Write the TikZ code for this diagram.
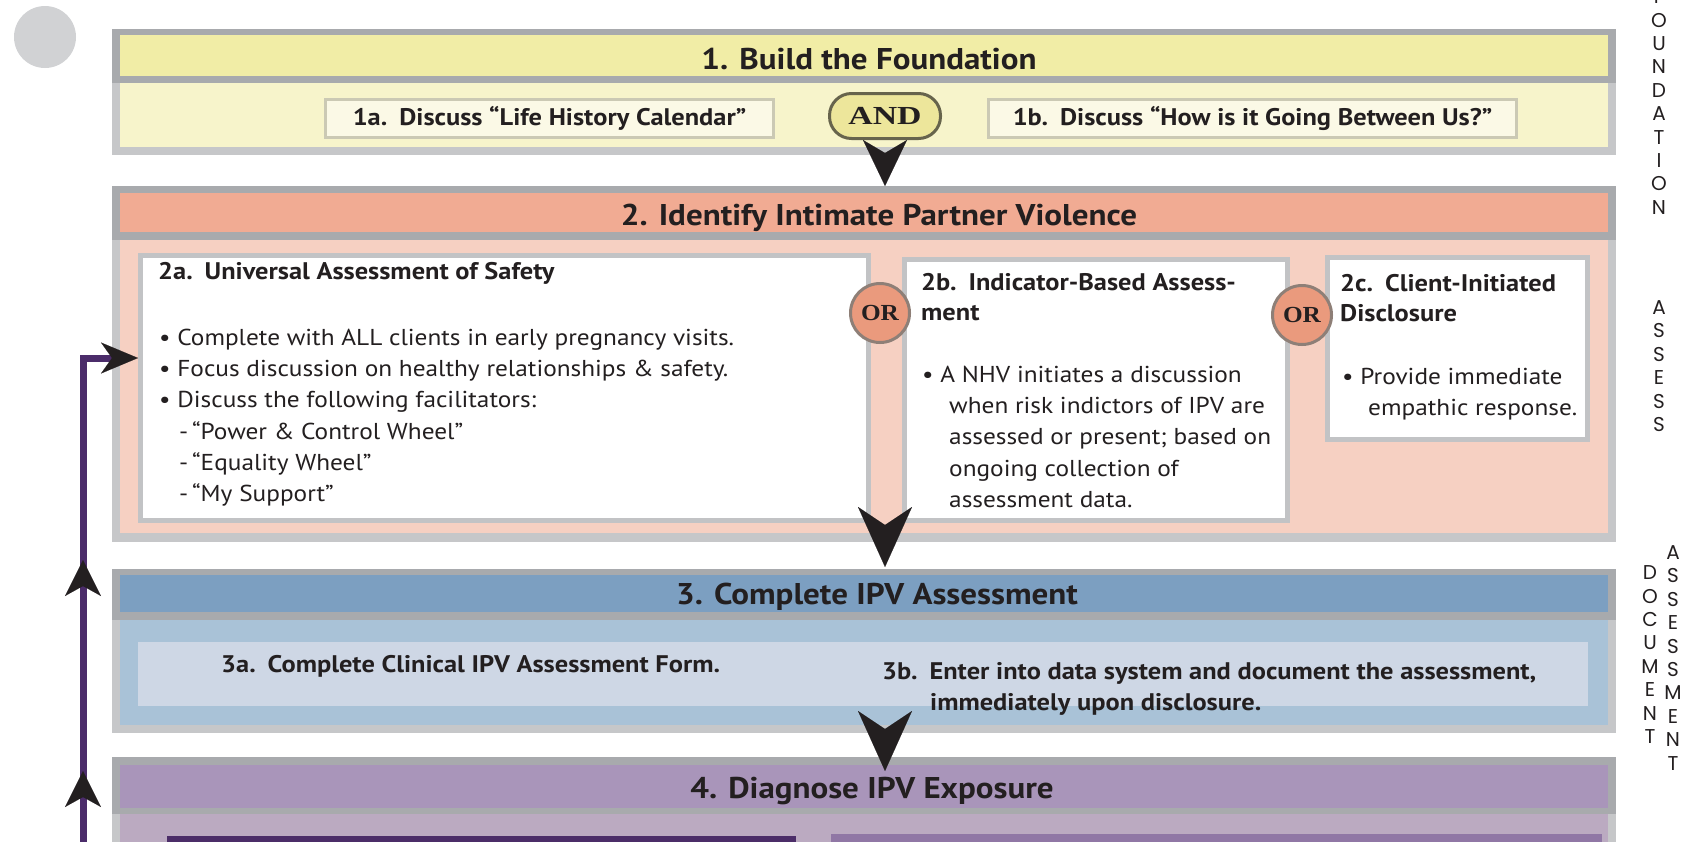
\documentclass[tikz,border=0pt]{standalone}
\usepackage{fontspec}
\setmainfont{PT Sans}[FakeStretch=1.1]
\newfontfamily\sidefont{Poppins}
\newfontfamily\joinfont{Liberation Serif}[FakeStretch=1.1]
\newfontfamily\andfont{Liberation Serif}[FakeStretch=1.3]
\usetikzlibrary{arrows.meta,calc,decorations.markings}

\definecolor{framelight}{HTML}{C6C7C9}
\definecolor{framedark}{HTML}{A8AAAD}
\definecolor{dotgrey}{HTML}{D1D2D4}
\definecolor{inktext}{HTML}{231F20}
\definecolor{foundhead}{HTML}{F1EDA6}
\definecolor{foundlow}{HTML}{F7F4CB}
\definecolor{foundcard}{HTML}{FBF9E6}
\definecolor{cardline}{HTML}{CBC9B4}
\definecolor{andfill}{HTML}{EDE69B}
\definecolor{andline}{HTML}{67644C}
\definecolor{assesshead}{HTML}{F1AB93}
\definecolor{assesslow}{HTML}{F6D0C2}
\definecolor{orfill}{HTML}{EA9A7D}
\definecolor{orline}{HTML}{8E7F77}
\definecolor{boxline}{HTML}{C2C3C5}
\definecolor{dochead}{HTML}{7C9FC1}
\definecolor{doclow}{HTML}{A9C2D7}
\definecolor{docinner}{HTML}{CED7E5}
\definecolor{diaghead}{HTML}{A995BA}
\definecolor{diaglow}{HTML}{BBAAC1}
\definecolor{diagdark}{HTML}{4B2D68}
\definecolor{diagmid}{HTML}{9077A5}
\definecolor{loopcolor}{HTML}{4B2C6A}

\tikzset{
  stepframe/.style={fill=framelight, anchor=north west, minimum width=1504pt},
  steptitle/.style={text=inktext, font=\bfseries\fontsize{30}{34}\selectfont, text height=20pt, text depth=6pt},
  card/.style={anchor=north west, fill=white, draw=boxline, line width=5pt},
  cardhead/.style={text=inktext, font=\bfseries\fontsize{24}{30}\selectfont, align=left},
  cardtext/.style={text=inktext, font=\fontsize{23}{31.2}\selectfont, align=left, anchor=north west},
  joinword/.style={circle, fill=orfill, draw=orline, line width=3pt, minimum size=59pt, text=inktext, font=\joinfont\bfseries\fontsize{23}{23}\selectfont},
  sidelabel/.style={anchor=north, align=center, text=inktext, font=\sidefont\fontsize{20}{23.4}\selectfont},
  chevron/.style={draw=inktext, line width=0.1pt, shorten <=13pt, -{Stealth[length=46pt,width=44pt,inset=13pt]}},
  bigchevron/.style={draw=inktext, line width=0.1pt, shorten <=18pt, -{Stealth[length=60pt,width=54pt,inset=18pt]}},
  loopline/.style={draw=loopcolor, line width=7pt, -{Stealth[length=37pt,width=31pt,inset=11pt,color=inktext,line width=0.1pt]},
    decoration={markings,
      mark=at position 89pt with {\arrow{Stealth[length=36pt,width=36pt,inset=10pt,color=inktext,line width=0.1pt]}},
      mark=at position 300pt with {\arrow{Stealth[length=36pt,width=36pt,inset=10pt,color=inktext,line width=0.1pt]}}},
    postaction={decorate}},
}

\begin{document}
\begin{tikzpicture}[x=1pt, y=-1pt, every node/.style={inner sep=0pt}]
  \useasboundingbox (0,0) rectangle (1691,841);

  % grey dot top left
  \fill[dotgrey] (45,37) circle (31);

  % step 1: foundation
  \node[stepframe, minimum height=126pt] (foundation) at (112,29) {};
  \fill[framedark] (112,29) rectangle (1616,83);
  \fill[foundhead] (120,35) rectangle (1608,76);
  \fill[foundlow] (120,83) rectangle (1608,147);
  \node[steptitle] (foundtitle) at (869,62) {1. Build the Foundation};
  \node[card, fill=foundcard, draw=cardline, line width=3pt, minimum width=448pt, minimum height=38pt,
        font=\bfseries\fontsize{24}{26}\selectfont, text=inktext] (lifecal) at (324,98)
        {1a.\hspace{0.5em}Discuss “Life History Calendar”};
  \node[card, fill=foundcard, draw=cardline, line width=3pt, minimum width=528pt, minimum height=38pt,
        font=\bfseries\fontsize{24}{26}\selectfont, text=inktext] (between) at (987,98)
        {1b.\hspace{0.5em}Discuss “How is it Going Between Us?”};
  \node[draw=andline, fill=andfill, line width=3pt, rounded corners=22pt, minimum width=111pt, minimum height=45pt,
        font=\andfont\bfseries\fontsize{26}{26}\selectfont, text=inktext] (andjoin) at (885,116) {AND};

  % step 2: identify
  \node[stepframe, minimum height=356pt] (identify) at (112,186) {};
  \fill[framedark] (112,186) rectangle (1616,240);
  \fill[assesshead] (120,193) rectangle (1608,232);
  \fill[assesslow] (120,240) rectangle (1608,533);
  \node[steptitle] (identtitle) at (879,218) {2. Identify Intimate Partner Violence};

  \node[card, minimum width=728pt, minimum height=265pt] (universal) at (138,253) {};
  \node[cardhead, anchor=west] (universalhead) at (158,273) {2a.\hspace{0.5em}Universal Assessment of Safety};
  \node[cardtext] (universaltext) at (159,329)
    {• Complete with ALL clients in early pregnancy visits.\\
     • Focus discussion on healthy relationships \& safety.\\
     • Discuss the following facilitators:\\
     \hspace*{20pt}-\,“Power \& Control Wheel”\\
     \hspace*{20pt}-\,“Equality Wheel”\\
     \hspace*{20pt}-\,“My Support”};

  \node[card, minimum width=383pt, minimum height=261pt] (indicator) at (902,257) {};
  \node[cardhead, anchor=north west] (indicatorhead) at (921,273) {2b.\hspace{0.5em}Indicator-Based Assess-\\ment};
  \node[cardtext] (indicatortext) at (922,366)
    {• A NHV initiates a discussion\\
     \hspace*{27pt}when risk indictors of IPV are\\
     \hspace*{27pt}assessed or present; based on\\
     \hspace*{27pt}ongoing collection of\\
     \hspace*{27pt}assessment data.};

  \node[card, minimum width=260pt, minimum height=182pt] (clientinit) at (1325,255) {};
  \node[cardhead, anchor=north west] (clienthead) at (1340,274) {2c.\hspace{0.5em}Client-Initiated\\Disclosure};
  \node[cardtext] (clienttext) at (1342,368)
    {• Provide immediate\\
     \hspace*{26pt}empathic response.};

  \node[joinword] (orone) at (880,313) {OR};
  \node[joinword] (ortwo) at (1302,315) {OR};

  % step 3: document
  \node[stepframe, minimum height=164pt] (document) at (112,569) {};
  \fill[framedark] (112,569) rectangle (1616,620);
  \fill[dochead] (120,575) rectangle (1608,612);
  \fill[doclow] (120,620) rectangle (1608,725);
  \node[steptitle] (doctitle) at (877,597) {3. Complete IPV Assessment};
  \node[anchor=north west, fill=docinner, minimum width=1450pt, minimum height=64pt] (docpanel) at (138,642) {};
  \node[cardhead, anchor=west] (clinicalform) at (221,666) {3a.\hspace{0.5em}Complete Clinical IPV Assessment Form.};
  \node[cardhead, anchor=north west, font=\bfseries\fontsize{24}{31}\selectfont] (datasystem) at (882,662)
    {3b.\hspace{0.5em}Enter into data system and document the assessment,\\
     \hspace*{48pt}immediately upon disclosure.};

  % step 4: diagnose
  \node[stepframe, minimum height=110pt] (diagnose) at (112,757) {};
  \fill[framedark] (112,757) rectangle (1616,814);
  \fill[diaghead] (120,765) rectangle (1608,808);
  \fill[diaglow] (120,814) rectangle (1608,867);
  \node[steptitle] (diagtitle) at (872,791) {4. Diagnose IPV Exposure};
  \fill[diagdark] (167,836) rectangle (796,870);
  \fill[diagmid] (831,834) rectangle (1602,870);

  % side labels
  \node[sidelabel] (foundlabel) at (1659,-10.5) {F\\O\\U\\N\\D\\A\\T\\I\\O\\N};
  \node[sidelabel] (assesslabel) at (1659,300.5) {A\\S\\S\\E\\S\\S};
  \node[sidelabel] (documentlabel) at (1650,565.5) {D\\O\\C\\U\\M\\E\\N\\T};
  \node[sidelabel] (assessmentlabel) at (1673,545.5) {A\\S\\S\\E\\S\\S\\M\\E\\N\\T};

  % arrows between the steps
  \draw[chevron] (andjoin.south) -- (andjoin.south |- identify.north);
  \draw[bigchevron] ($(andjoin |- identify.south)+(0,-35)$) -- ($(andjoin |- document.north)+(0,-2)$);
  \draw[bigchevron] ($(andjoin |- document.south)+(0,-21)$) -- ($(andjoin |- diagnose.north)+(0,14)$);

  % return line into 2a
  \coordinate (loopfoot) at (83,860);
  \coordinate (loopturn) at (83,358);
  \draw[loopline] (loopfoot) -- (loopturn) -- (loopturn -| universal.west);
\end{tikzpicture}
\end{document}
